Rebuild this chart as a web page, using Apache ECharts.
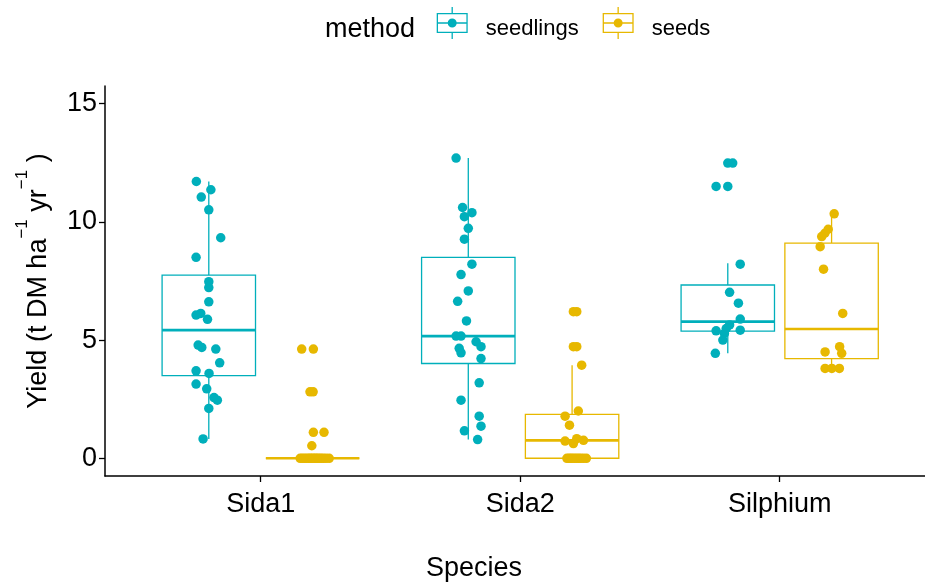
<!DOCTYPE html>
<html>
<head>
<meta charset="utf-8">
<title>Yield by species and establishment method</title>
<script src="https://cdn.jsdelivr.net/npm/echarts@6/dist/echarts.min.js"></script>
<style>
  html, body { margin: 0; padding: 0; background: #ffffff; }
  #chart { width: 925px; height: 587px; }
</style>
</head>
<body>
<div id="chart"></div>
<script>
// ---- data -------------------------------------------------------------
const species = ['Sida1', 'Sida2', 'Silphium'];
const methods = ['seedlings', 'seeds'];
const yTicks = [0, 5, 10, 15];

// five-number summaries [min, Q1, median, Q3, max], one row per species
const seedlingStats = [
  [0.82, 3.50, 5.42, 7.75, 11.71],
  [0.79, 4.01, 5.17, 8.50, 12.70],
  [4.44, 5.38, 5.78, 7.33, 8.25]
];
const seedStats = [
  [0, 0, 0, 0, 0],
  [0, 0, 0.76, 1.86, 3.94],
  [3.80, 4.22, 5.47, 9.10, 10.34]
];

// plot-level yields (t DM / ha / yr) and their horizontal jitter (category units)
const sida1Seedlings = [11.71, 11.36, 11.05, 10.51, 9.33, 8.50, 7.47, 7.22, 6.62, 6.06, 6.13, 5.88,
  4.79, 4.69, 4.62, 4.04, 3.70, 3.59, 3.14, 2.94, 2.57, 2.46, 2.11, 0.82];
const sida1SeedlingsJitter = [-0.048, 0.008, -0.029, 0, 0.046, -0.049, 0, 0, 0, -0.049, -0.031, -0.005,
  -0.041, -0.027, 0.027, 0.042, -0.049, 0.001, -0.049, -0.008, 0.020, 0.033, 0, -0.022];

const sida1Seeds = [4.62, 4.62, 2.81, 2.81, 1.10, 1.10, 0.53,
  0, 0, 0, 0, 0, 0, 0, 0, 0, 0, 0, 0, 0, 0, 0, 0];
const sida1SeedsJitter = [-0.042, 0.003, -0.010, 0.002, 0.003, 0.044, -0.003,
  -0.048, -0.040, -0.032, -0.024, -0.016, -0.010, -0.004, 0.002, 0.008, 0.014, 0.020, 0.027, 0.034, 0.042, 0.052, 0.064];

const sida2Seedlings = [12.70, 10.61, 10.39, 10.22, 9.73, 9.27, 8.21, 7.77, 7.08, 6.64, 5.81, 5.17,
  5.17, 4.93, 4.65, 4.72, 4.46, 4.22, 3.19, 2.46, 1.78, 1.36, 1.16, 0.79];
const sida2SeedlingsJitter = [-0.047, -0.022, 0.014, -0.015, 0, -0.015, 0.014, -0.028, 0, -0.041, -0.007, -0.047,
  -0.028, 0.030, -0.035, 0.049, -0.028, 0.049, 0.042, -0.028, 0.042, 0.049, -0.015, 0.036];

const sida2Seeds = [6.20, 6.20, 4.72, 4.72, 3.94, 2.00, 1.78, 1.40, 0.73, 0.62, 0.83, 0.76,
  0, 0, 0, 0, 0, 0, 0, 0, 0, 0];
const sida2SeedsJitter = [0.005, 0.018, 0.005, 0.018, 0.037, 0.024, -0.027, -0.010, -0.027, 0.005, 0.018, 0.044,
  -0.020, -0.012, -0.005, 0.002, 0.010, 0.018, 0.026, 0.034, 0.044, 0.055];

const silphiumSeedlings = [12.49, 12.49, 11.50, 11.50, 8.21, 7.02, 6.56, 5.89, 5.64, 5.39, 5.49, 5.42,
  5.28, 5.00, 4.44];
const silphiumSeedlingsJitter = [0, 0.019, -0.045, 0, 0.048, 0.007, 0.041, 0.048, 0.007, -0.045, -0.006, 0.048,
  -0.013, -0.019, -0.048];

const silphiumSeeds = [10.34, 9.69, 9.52, 9.38, 8.95, 8.00, 6.13, 4.50, 4.72, 4.44, 3.80, 3.80, 3.80];
const silphiumSeedsJitter = [0.010, -0.013, -0.026, -0.038, -0.044, -0.031, 0.043, -0.025, 0.031, 0.039,
  -0.025, 0.001, 0.030];

// ---- look & layout ----------------------------------------------------
const FONT = '"Liberation Sans", Arial, Helvetica, sans-serif';
const COLORS = { seedlings: '#00AFBB', seeds: '#E7B800' };
const DODGE = 0.2;        // half-distance between the two boxes of a species
const BOX_WIDTH = 0.36;   // box width in category units

const seedlingPoints = [
  [sida1Seedlings, sida1SeedlingsJitter],
  [sida2Seedlings, sida2SeedlingsJitter],
  [silphiumSeedlings, silphiumSeedlingsJitter]
];
const seedPoints = [
  [sida1Seeds, sida1SeedsJitter],
  [sida2Seeds, sida2SeedsJitter],
  [silphiumSeeds, silphiumSeedsJitter]
];

function boxRows(stats, offset) {
  return stats.map((s, i) => [i + 1 + offset].concat(s));
}
function pointRows(groups, offset) {
  const rows = [];
  groups.forEach(([values, jitter], i) => {
    values.forEach((v, k) => rows.push([i + 1 + offset + jitter[k], v]));
  });
  return rows;
}

function renderBox(params, api) {
  const x = api.value(0);
  const lo = api.coord([x, api.value(1)]);
  const q1 = api.coord([x, api.value(2)]);
  const md = api.coord([x, api.value(3)]);
  const q3 = api.coord([x, api.value(4)]);
  const hi = api.coord([x, api.value(5)]);
  const half = api.size([BOX_WIDTH, 0])[0] / 2;
  const color = api.visual('color');
  const thin = { stroke: color, lineWidth: 1.3, fill: null };
  return {
    type: 'group',
    children: [
      { type: 'line', shape: { x1: lo[0], y1: lo[1], x2: q1[0], y2: q1[1] }, style: thin },
      { type: 'line', shape: { x1: q3[0], y1: q3[1], x2: hi[0], y2: hi[1] }, style: thin },
      { type: 'rect', shape: { x: q1[0] - half, y: q3[1], width: half * 2, height: q1[1] - q3[1] },
        style: { fill: '#ffffff', stroke: color, lineWidth: 1.3 } },
      { type: 'line', shape: { x1: md[0] - half, y1: md[1], x2: md[0] + half, y2: md[1] },
        style: { stroke: color, lineWidth: 2.7 } }
    ]
  };
}

// legend key: box outline, median bar, whisker stubs and a centre dot;
// the trailing move-to widens the key's frame downward so the glyph sits above the label's centre
const KEY_ICON = 'path://M0,6 H31 V26 H0 Z ' +
  'M1.3,7.3 V24.7 H29.7 V7.3 Z ' +
  'M14.85,0 H16.15 V6 H14.85 Z ' +
  'M14.85,26 H16.15 V32 H14.85 Z ' +
  'M1.3,15.35 H29.7 V16.65 H1.3 Z ' +
  'M20,16 A4.5,4.5 0 1 1 11,16 A4.5,4.5 0 1 1 20,16 Z ' +
  'M15.5,44';

const chart = echarts.init(document.getElementById('chart'), null, { renderer: 'canvas' });

chart.setOption({
  animation: false,
  backgroundColor: '#ffffff',
  textStyle: { fontFamily: FONT },
  title: {
    text: 'method',
    left: 320,
    top: 11,
    textStyle: { fontSize: 27, fontWeight: 'normal', fontFamily: FONT, color: '#000' }
  },
  legend: {
    left: 431.7,
    top: 2,
    itemWidth: 31,
    itemHeight: 44,
    itemGap: 24,
    selectedMode: false,
    itemStyle: { borderWidth: 0 },
    textStyle: { fontSize: 22, fontFamily: FONT, color: '#000', padding: [0, 0, 0, 13] },
    data: methods.map(m => ({ name: m, icon: KEY_ICON }))
  },
  grid: { left: 105, right: 0, top: 86, bottom: 111, containLabel: false },
  xAxis: {
    type: 'value',
    min: 0.4,
    max: 3.56,
    name: 'Species',
    nameLocation: 'middle',
    nameGap: 79,
    nameTextStyle: { fontSize: 27, fontFamily: FONT, color: '#000', padding: [0, 82, 0, 0] },
    splitLine: { show: false },
    axisLine: { show: true, onZero: false, lineStyle: { color: '#000', width: 1.5 } },
    axisTick: { show: true, length: 6, lineStyle: { color: '#000', width: 1.3 },
                customValues: species.map((s, i) => i + 1) },
    axisLabel: {
      fontSize: 27, fontFamily: FONT, color: '#000', margin: 15,
      customValues: species.map((s, i) => i + 1),
      formatter: v => species[Math.round(v) - 1] || ''
    }
  },
  yAxis: {
    type: 'value',
    min: -0.75,
    max: 15.75,
    name: '{m|Yield (t DM ha}{s|−1}{m| yr}{s|−1}{m| )}',
    nameLocation: 'middle',
    nameRotate: 90,
    nameGap: 41,
    nameTextStyle: {
      fontSize: 27, fontFamily: FONT, color: '#000',
      rich: {
        m: { fontSize: 27, lineHeight: 50, fontFamily: FONT, color: '#000' },
        s: { fontSize: 17, lineHeight: 18, verticalAlign: 'top', fontFamily: FONT, color: '#000' }
      }
    },
    splitLine: { show: false },
    axisLine: { show: true, onZero: false, lineStyle: { color: '#000', width: 1.5 } },
    axisTick: { show: true, length: 6, lineStyle: { color: '#000', width: 1.3 }, customValues: yTicks },
    axisLabel: { fontSize: 27, fontFamily: FONT, color: '#000', margin: 8, customValues: yTicks }
  },
  series: [
    {
      name: 'seedlings', type: 'custom', renderItem: renderBox,
      itemStyle: { color: COLORS.seedlings },
      encode: { x: 0, y: [1, 2, 3, 4, 5] },
      data: boxRows(seedlingStats, -DODGE), z: 2
    },
    {
      name: 'seeds', type: 'custom', renderItem: renderBox,
      itemStyle: { color: COLORS.seeds },
      encode: { x: 0, y: [1, 2, 3, 4, 5] },
      data: boxRows(seedStats, DODGE), z: 2
    },
    {
      name: 'seedlings', type: 'scatter', symbol: 'circle', symbolSize: 9.5,
      itemStyle: { color: COLORS.seedlings, opacity: 1 },
      data: pointRows(seedlingPoints, -DODGE), z: 3
    },
    {
      name: 'seeds', type: 'scatter', symbol: 'circle', symbolSize: 9.5,
      itemStyle: { color: COLORS.seeds, opacity: 1 },
      data: pointRows(seedPoints, DODGE), z: 3
    }
  ]
});
</script>
</body>
</html>
